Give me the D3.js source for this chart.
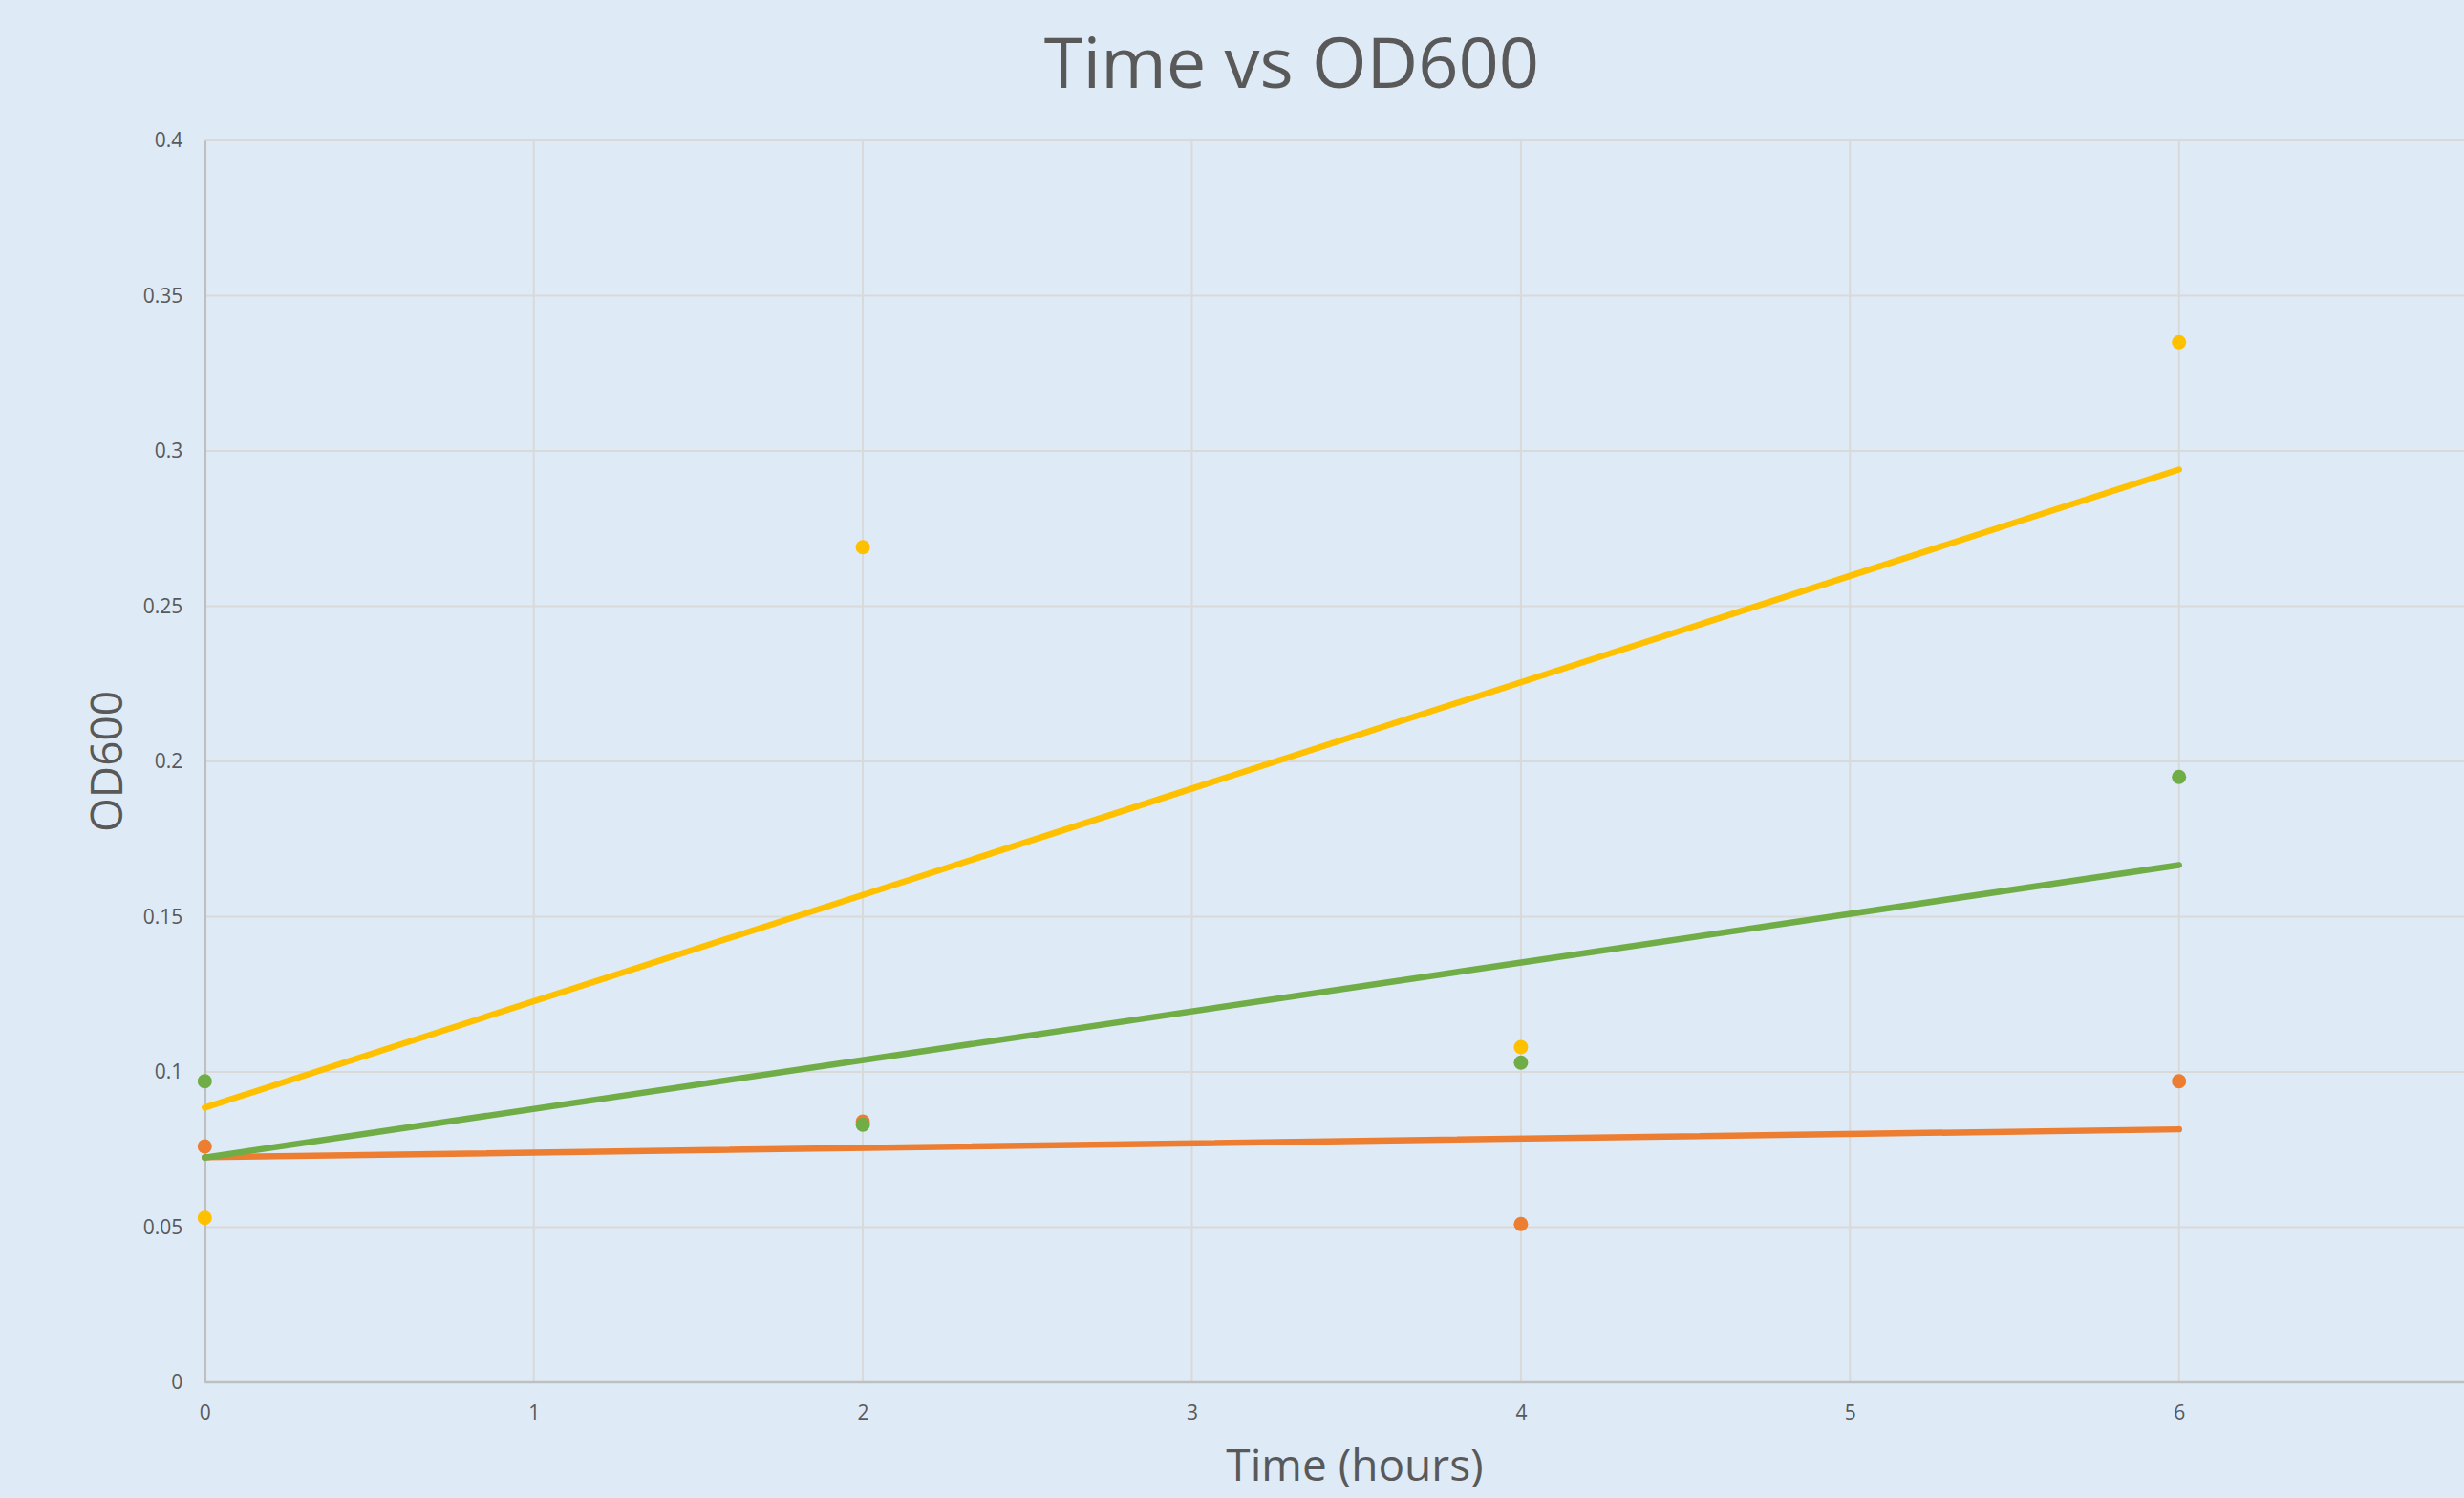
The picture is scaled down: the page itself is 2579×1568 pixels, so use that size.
<!DOCTYPE html>
<html>
<head>
<meta charset="utf-8">
<script src="https://cdn.jsdelivr.net/npm/d3@7"></script>
<style>
  html, body { margin: 0; padding: 0; background: #DEEBF7; overflow: hidden; }
  svg { display: block; }
  text { font-family: "Open Sans", "Noto Sans", sans-serif; fill: #595959; }
</style>
</head>
<body>
<svg id="chart" width="2579" height="1568"></svg>
<script>
// ---- data ----
const times = [0, 2, 4, 6];
const orangeOD = [0.076, 0.084, 0.051, 0.097];
const yellowOD = [0.053, 0.269, 0.108, 0.335];
const greenOD  = [0.097, 0.083, 0.103, 0.195];
const xTicks = [0, 1, 2, 3, 4, 5, 6];
const yTicks = [0, 0.05, 0.1, 0.15, 0.2, 0.25, 0.3, 0.35, 0.4];
const yTickLabels = ["0", "0.05", "0.1", "0.15", "0.2", "0.25", "0.3", "0.35", "0.4"];
const seriesNames = ["Orange", "Yellow", "Green"];
const seriesColors = ["#ED7D31", "#FFC000", "#70AD47"];
const chartTitle = "Time vs OD600";
const xTitle = "Time (hours)";
const yTitle = "OD600";

(function () {
const series = [orangeOD, yellowOD, greenOD].map((vals, i) => ({
  name: seriesNames[i], color: seriesColors[i],
  points: times.map((t, j) => ({ x: t, y: vals[j] }))
}));

// ---- layout ----
const W = 2579, H = 1568;
const pLeft = 214.3, pTop = 147, pBottom = 1447;
const hourPx = 344.4;
const x = d3.scaleLinear().domain([0, 7]).range([pLeft, pLeft + 7 * hourPx]);
const y = d3.scaleLinear().domain([0, 0.4]).range([pBottom, pTop]);

const svg = d3.select("#chart");
svg.append("rect").attr("width", W).attr("height", H).attr("fill", "#DEEBF7");

svg.append("defs").append("clipPath").attr("id", "plotclip")
  .append("rect").attr("x", pLeft - 20).attr("y", pTop - 20).attr("width", W - pLeft + 20).attr("height", pBottom - pTop + 40);

// gridlines
const grid = svg.append("g");
grid.selectAll("line.h").data(yTicks.slice(1)).join("line").attr("class", "h")
  .attr("x1", pLeft).attr("x2", W)
  .attr("y1", d => y(d)).attr("y2", d => y(d))
  .attr("stroke", "#D9D9D9").attr("stroke-width", 2);
grid.selectAll("line.v").data(xTicks.slice(1)).join("line").attr("class", "v")
  .attr("x1", d => x(d)).attr("x2", d => x(d))
  .attr("y1", pTop).attr("y2", pBottom)
  .attr("stroke", "#D9D9D9").attr("stroke-width", 2);

// axes
const xAxis = d3.axisBottom(x).tickValues(xTicks).tickSize(0).tickPadding(24).tickFormat(d3.format("d"));
const gx = svg.append("g").attr("transform", `translate(0,${pBottom})`).call(xAxis);
gx.select(".domain").attr("d", `M${pLeft},0H${W}`).attr("stroke", "#BFBFBF").attr("stroke-width", 2.5);
gx.selectAll("text").attr("font-size", 21).attr("fill", "#595959");

const yAxis = d3.axisLeft(y).tickValues(yTicks).tickSize(0).tickPadding(23)
  .tickFormat((d, i) => yTickLabels[i]);
const gy = svg.append("g").attr("transform", `translate(${pLeft},0)`).call(yAxis);
gy.select(".domain").attr("stroke", "#BFBFBF").attr("stroke-width", 2.5);
gy.selectAll("text").attr("font-size", 21).attr("fill", "#595959");

// trendlines (least-squares linear fit of each series)
function fit(points) {
  const mx = d3.mean(points, p => p.x), my = d3.mean(points, p => p.y);
  const sxy = d3.sum(points, p => (p.x - mx) * (p.y - my));
  const sxx = d3.sum(points, p => (p.x - mx) ** 2);
  const b = sxy / sxx, a = my - b * mx;
  return t => a + b * t;
}
const plot = svg.append("g").attr("clip-path", "url(#plotclip)");
const xExt = d3.extent(times);
series.forEach(s => {
  const f = fit(s.points);
  plot.append("line")
    .attr("x1", x(xExt[0])).attr("y1", y(f(xExt[0])))
    .attr("x2", x(xExt[1])).attr("y2", y(f(xExt[1])))
    .attr("stroke", s.color).attr("stroke-width", 6.5).attr("stroke-linecap", "round");
});
// markers
series.forEach(s => {
  plot.append("g").selectAll("circle").data(s.points).join("circle")
    .attr("cx", d => x(d.x)).attr("cy", d => y(d.y)).attr("r", 7.5)
    .attr("fill", s.color);
});

// titles
svg.append("text").attr("x", 1352).attr("y", 92).attr("text-anchor", "middle")
  .attr("font-size", 74).text(chartTitle);
svg.append("text").attr("x", 1418).attr("y", 1550).attr("text-anchor", "middle")
  .attr("font-size", 46).text(xTitle);
svg.append("text").attr("transform", "translate(128,797) rotate(-90)").attr("text-anchor", "middle")
  .attr("font-size", 46).text(yTitle);
})();
</script>
</body>
</html>
